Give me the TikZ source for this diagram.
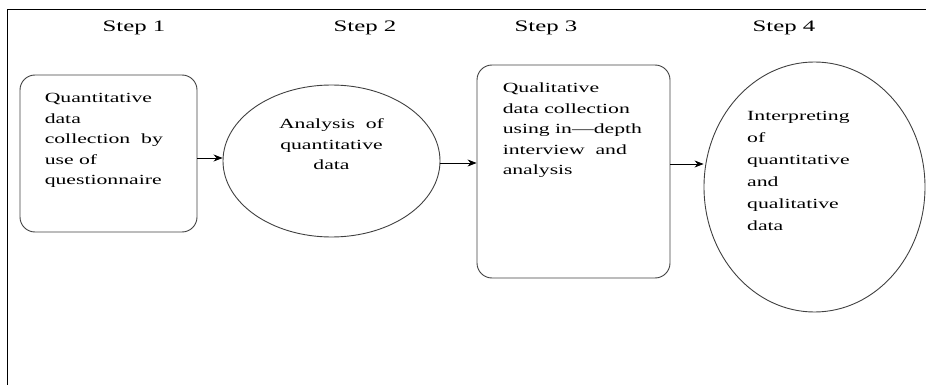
\documentclass[tikz,border=0pt]{standalone}
\usepackage{fontspec}
\setmainfont{Liberation Serif}[FakeStretch=1.55]
\usetikzlibrary{shapes.geometric, arrows.meta, calc}

\begin{document}
\begin{tikzpicture}[x=1pt, y=-1pt,
  Stage/.style={draw=black!75, line width=0.9pt, rounded corners=15pt, inner sep=0pt},
  Oval/.style={draw=black!75, line width=0.9pt, ellipse, inner sep=0pt},
  Text/.style={inner sep=0pt, font=\fontsize{14}{20.5}\selectfont},
  StepLabel/.style={inner sep=0pt, font=\fontsize{16}{18}\selectfont},
  Flow/.style={-{Stealth[length=9pt, width=7pt]}, line width=0.8pt}]

\useasboundingbox (0,0) rectangle (926,385);
\draw [line width=1pt] (7,385) -- (7,10) -- (926,10);

\foreach \pos/\num in {134/1, 365/2, 546/3, 784/4} {
  \node [StepLabel] (step\num) at (\pos, 28) {Step \num};
}

\node [Stage, minimum width=177pt, minimum height=157pt] (collect) at (108.5, 153.5) {};
\node [Text, anchor=north west, align=left] (collecttext) at ($(collect.north west)+(25,18.5)$)
  {Quantitative\\data\\collection\ \ by\\use of\\questionnaire};

\node [Oval, minimum width=217pt, minimum height=152pt] (analysis) at (331.5, 161) {};
\node [Text, anchor=north, align=center] (analysistext) at ($(analysis.center)+(0,-42.5)$)
  {Analysis\ \ of\\quantitative\\data};

\node [Stage, minimum width=193pt, minimum height=213pt] (interview) at (573.5, 171.5) {};
\node [Text, anchor=north west, align=left] (interviewtext) at ($(interview.north west)+(26,18.5)$)
  {Qualitative\\data collection\\using in---depth\\interview\ \ and\\analysis};

\node [Oval, minimum width=221pt, minimum height=250pt] (interpret) at (814.5, 187) {};
\node [Text, anchor=north west, align=left, font=\fontsize{14}{22}\selectfont] (interprettext) at ($(interpret.center)+(-67.5,-75.5)$)
  {Interpreting\\of\\quantitative\\and\\qualitative\\data};

\draw [Flow] ($(collect.east)+(0,4.5)$) coordinate (a1) -- (a1 -| analysis.west);
\draw [Flow] ($(analysis.east)+(0,2)$) coordinate (a2) -- (a2 -| interview.west);
\draw [Flow] ($(interview.east)+(0,-7.5)$) coordinate (a3) -- (a3 -| interpret.west);
\end{tikzpicture}
\end{document}
